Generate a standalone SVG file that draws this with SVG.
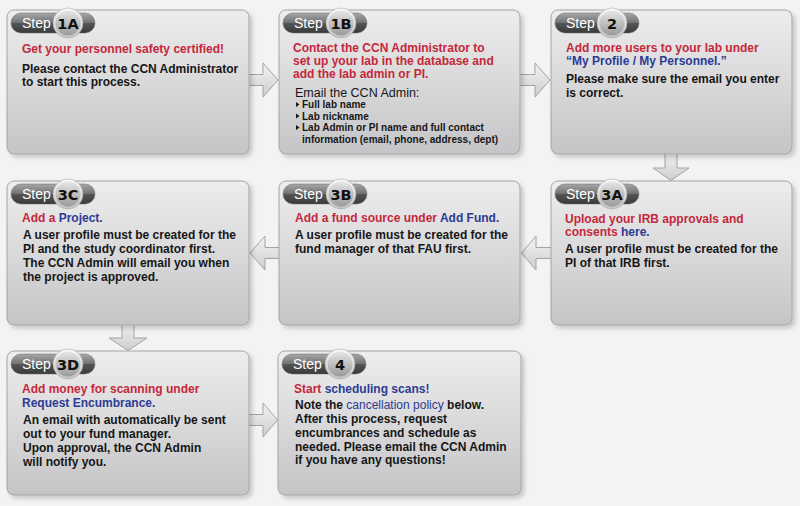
<svg xmlns="http://www.w3.org/2000/svg" width="800" height="506" viewBox="0 0 800 506">
<defs>
<linearGradient id="boxg" x1="0" y1="0" x2="0" y2="1"><stop offset="0" stop-color="#ededee"/><stop offset="1" stop-color="#c5c5c7"/></linearGradient>
<linearGradient id="arrg" x1="0" y1="0" x2="0" y2="1"><stop offset="0" stop-color="#f4f4f4"/><stop offset="1" stop-color="#cdcdcd"/></linearGradient>
<linearGradient id="pillg" x1="0" y1="0" x2="0" y2="1"><stop offset="0" stop-color="#a8a8a8"/><stop offset="0.48" stop-color="#727272"/><stop offset="0.52" stop-color="#555"/><stop offset="1" stop-color="#393939"/></linearGradient>
<linearGradient id="ringg" x1="0" y1="0" x2="0" y2="1"><stop offset="0" stop-color="#fbfbfb"/><stop offset="1" stop-color="#c2c2c2"/></linearGradient>
<linearGradient id="coreg" x1="0" y1="0" x2="0" y2="1"><stop offset="0" stop-color="#e6e6e6"/><stop offset="1" stop-color="#9a9a9a"/></linearGradient>
<filter id="sh" x="-5%" y="-5%" width="115%" height="120%"><feDropShadow dx="3" dy="3" stdDeviation="2" flood-color="#000" flood-opacity="0.18"/></filter>
</defs>
<style>
.box{fill:url(#boxg);stroke:#a4a4a4;stroke-width:1;filter:url(#sh)}
.pill{fill:url(#pillg);stroke:#6a6a6a;stroke-width:0.5}
.ring{fill:url(#ringg);stroke:#a8a8a8;stroke-width:0.6}
.core{fill:url(#coreg)}
.step{font-family:"Liberation Sans",Arial,sans-serif;font-size:14px;fill:#fff}
.num{font-family:"DejaVu Sans",sans-serif;font-weight:bold;font-size:14.5px;fill:#111;text-anchor:middle}
.t{font-family:"Liberation Sans",Arial,sans-serif;font-weight:bold;font-size:12px}
.reg{font-weight:normal}
.sm{font-size:10px}
.r{fill:#c4283a}
.b{fill:#2d3b93}
.k{fill:#161616}
.bul{fill:#161616}
.arrow{fill:url(#arrg);stroke:#a3a3a3;stroke-width:1}
</style>
<rect x="0" y="0" width="800" height="506" fill="#f3f3f3"/>

<g id="connectors">
<polygon class="arrow" points="245,74.5 263,74.5 263,63 278,80 263,97 263,85.5 245,85.5"/>
<polygon class="arrow" points="516,74.5 535,74.5 535,63 550,80 535,97 535,85.5 516,85.5"/>
<polygon class="arrow" points="665,150 677,150 677,168 689,168 671,180.5 653,168 665,168"/>
<polygon class="arrow" points="555,247.5 536,247.5 536,236 521.5,253 536,270 536,258.5 555,258.5"/>
<polygon class="arrow" points="283,247.5 265,247.5 265,236 250,253 265,270 265,258.5 283,258.5"/>
<polygon class="arrow" points="122,321 134,321 134,338 147,338 128,350.5 109,338 122,338"/>
<polygon class="arrow" points="245,414.5 263,414.5 263,403 277.5,420 263,437 263,425.5 245,425.5"/>
</g>

<g id="step1A" transform="translate(7,10)">
<rect class="box" x="0" y="0" width="242" height="144" rx="7"/>
<rect class="pill" x="4" y="3" width="84" height="20" rx="10"/>
<text class="step" x="15" y="18">Step</text>
<circle class="ring" cx="61" cy="13" r="15"/><circle class="core" cx="61" cy="13" r="12.5"/>
<text class="num" x="61" y="18.5">1A</text>
<text class="t r" x="15" y="43">Get your personnel safety certified!</text>
<text class="t k" x="15" y="62.5">Please contact the CCN Administrator</text>
<text class="t k" x="15" y="76">to start this process.</text>
</g>

<g id="step1B" transform="translate(279,10)">
<rect class="box" x="0" y="0" width="241" height="144" rx="7"/>
<rect class="pill" x="4" y="3" width="84" height="20" rx="10"/>
<text class="step" x="15" y="18">Step</text>
<circle class="ring" cx="62" cy="13" r="15"/><circle class="core" cx="62" cy="13" r="12.5"/>
<text class="num" x="62" y="18.5">1B</text>
<text class="t r" x="14" y="42">Contact the CCN Administrator to</text>
<text class="t r" x="14" y="55">set up your lab in the database and</text>
<text class="t r" x="14" y="68">add the lab admin or PI.</text>
<text class="t k reg" x="16" y="87" style="font-size:12.5px">Email the CCN Admin:</text>
<polygon class="bul" points="17,92 17,97 20.5,94.5"/>
<text class="t k sm" x="23" y="98">Full lab name</text>
<polygon class="bul" points="17,103.5 17,108.5 20.5,106"/>
<text class="t k sm" x="23" y="109.5">Lab nickname</text>
<polygon class="bul" points="17,115 17,120 20.5,117.5"/>
<text class="t k sm" x="23" y="121">Lab Admin or PI name and full contact</text>
<text class="t k sm" x="23" y="133">information (email, phone, address, dept)</text>
</g>

<g id="step2" transform="translate(551,10)">
<rect class="box" x="0" y="0" width="241" height="144" rx="7"/>
<rect class="pill" x="4" y="3" width="84" height="20" rx="10"/>
<text class="step" x="15" y="18">Step</text>
<circle class="ring" cx="61" cy="13" r="15"/><circle class="core" cx="61" cy="13" r="12.5"/>
<text class="num" x="61" y="18.5">2</text>
<text class="t r" x="15" y="42">Add more users to your lab under</text>
<text class="t b" x="15" y="55">“My Profile / My Personnel.”</text>
<text class="t k" x="15" y="73">Please make sure the email you enter</text>
<text class="t k" x="15" y="87">is correct.</text>
</g>

<g id="step3A" transform="translate(551,181)">
<rect class="box" x="0" y="0" width="241" height="144" rx="7"/>
<rect class="pill" x="4" y="3" width="84" height="20" rx="10"/>
<text class="step" x="15" y="18">Step</text>
<circle class="ring" cx="61" cy="13" r="15"/><circle class="core" cx="61" cy="13" r="12.5"/>
<text class="num" x="61" y="18.5">3A</text>
<text class="t r" x="14" y="42">Upload your IRB approvals and</text>
<text class="t r" x="14" y="55">consents <tspan class="b">here.</tspan></text>
<text class="t k" x="14" y="72">A user profile must be created for the</text>
<text class="t k" x="14" y="86">PI of that IRB first.</text>
</g>

<g id="step3B" transform="translate(279,181)">
<rect class="box" x="0" y="0" width="241" height="144" rx="7"/>
<rect class="pill" x="4" y="3" width="84" height="20" rx="10"/>
<text class="step" x="15" y="18">Step</text>
<circle class="ring" cx="62" cy="13" r="15"/><circle class="core" cx="62" cy="13" r="12.5"/>
<text class="num" x="62" y="18.5">3B</text>
<text class="t r" x="16" y="41">Add a fund source under <tspan class="b">Add Fund.</tspan></text>
<text class="t k" x="16" y="58">A user profile must be created for the</text>
<text class="t k" x="16" y="72">fund manager of that FAU first.</text>
</g>

<g id="step3C" transform="translate(7,181)">
<rect class="box" x="0" y="0" width="242" height="144" rx="7"/>
<rect class="pill" x="4" y="3" width="84" height="20" rx="10"/>
<text class="step" x="15" y="18">Step</text>
<circle class="ring" cx="61" cy="13" r="15"/><circle class="core" cx="61" cy="13" r="12.5"/>
<text class="num" x="61" y="18.5">3C</text>
<text class="t r" x="15" y="41">Add a <tspan class="b">Project.</tspan></text>
<text class="t k" x="16" y="58">A user profile must be created for the</text>
<text class="t k" x="16" y="72">PI and the study coordinator first.</text>
<text class="t k" x="16" y="86">The CCN Admin will email you when</text>
<text class="t k" x="16" y="100">the project is approved.</text>
</g>

<g id="step3D" transform="translate(7,351)">
<rect class="box" x="0" y="0" width="242" height="144" rx="7"/>
<rect class="pill" x="4" y="3" width="84" height="20" rx="10"/>
<text class="step" x="15" y="18">Step</text>
<circle class="ring" cx="61" cy="13" r="15"/><circle class="core" cx="61" cy="13" r="12.5"/>
<text class="num" x="61" y="18.5">3D</text>
<text class="t r" x="15" y="42">Add money for scanning under</text>
<text class="t b" x="15" y="56">Request Encumbrance.</text>
<text class="t k" x="16" y="73">An email with automatically be sent</text>
<text class="t k" x="16" y="87">out to your fund manager.</text>
<text class="t k" x="16" y="101">Upon approval, the CCN Admin</text>
<text class="t k" x="16" y="115">will notify you.</text>
</g>

<g id="step4" transform="translate(278,351)">
<rect class="box" x="0" y="0" width="243" height="144" rx="7"/>
<rect class="pill" x="4" y="3" width="84" height="20" rx="10"/>
<text class="step" x="15" y="18">Step</text>
<circle class="ring" cx="62" cy="13" r="15"/><circle class="core" cx="62" cy="13" r="12.5"/>
<text class="num" x="62" y="18.5">4</text>
<text class="t r" x="16" y="42">Start <tspan class="b">scheduling scans!</tspan></text>
<text class="t k" x="17" y="58">Note the <tspan class="b reg">cancellation policy</tspan> below.</text>
<text class="t k" x="17" y="72">After this process, request</text>
<text class="t k" x="17" y="86">encumbrances and schedule as</text>
<text class="t k" x="17" y="100">needed. Please email the CCN Admin</text>
<text class="t k" x="17" y="113">if you have any questions!</text>
</g>
</svg>
